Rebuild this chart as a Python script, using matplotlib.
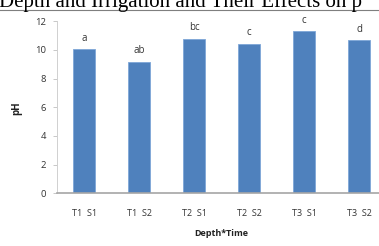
import matplotlib
matplotlib.use("Agg")
import matplotlib.pyplot as plt
from matplotlib.lines import Line2D

categories = ["T1  S1", "T1  S2", "T2  S1", "T2  S2", "T3  S1", "T3  S2"]
values = [10.05, 9.16, 10.79, 10.44, 11.30, 10.67]
letters = ["a", "ab", "bc", "c", "c", "d"]
yticks = [0, 2, 4, 6, 8, 10, 12]

W, H = 379, 246
fig = plt.figure(figsize=(W / 100, H / 100), dpi=100)
fig.patch.set_facecolor("white")

# axes placement in pixels
x0, x1 = 57, 386.5
y0, y1 = 193.3, 21.3
ax = fig.add_axes([x0 / W, 1 - y0 / H, (x1 - x0) / W, (y0 - y1) / H])

xs = list(range(len(categories)))
ax.bar(xs, values, width=0.4, color="#4F81BD", edgecolor="#7EA6D8", linewidth=0.6, zorder=2)
for x, v, l in zip(xs, values, letters):
    ax.text(x, v + 0.4, l, ha="center", va="bottom", fontsize=7,
            family="Open Sans", color="#333333")

ax.set_xlim(-0.5, len(categories) - 0.5)
ax.set_ylim(0, 12)
ax.set_yticks(yticks)
ax.set_xticks(xs)
ax.set_xticklabels(categories, family="Open Sans", fontsize=6.5, color="#333333")
ax.tick_params(axis="x", length=0, pad=11)
ax.tick_params(axis="y", length=3, width=0.6, color="#BFBFBF", pad=5,
               labelsize=6.8, labelcolor="#333333")
for lab in ax.get_yticklabels():
    lab.set_family("Open Sans")

for s in ["top", "right"]:
    ax.spines[s].set_visible(False)
ax.spines["left"].set_color("#D0D0D0")
ax.spines["left"].set_linewidth(0.7)
ax.spines["bottom"].set_color("#A6A6A6")
ax.spines["bottom"].set_linewidth(1.2)

fig.text(17 / W, 1 - 108 / H, "pH", rotation=90, ha="center", va="center",
         fontsize=7, fontweight="bold", family="Open Sans", color="#222222")
fig.text(221 / W, 1 - 233 / H, "Depth*Time", ha="center", va="center",
         fontsize=6.5, fontweight="bold", family="Open Sans", color="#222222")

# cropped title from the source page
fig.text(-0.002, 1 - 7.5 / H, "Depth and Irrigation and Their Effects on p",
         ha="left", va="baseline", fontsize=15, family="Liberation Serif", color="black")
fig.add_artist(Line2D([0, 1], [1 - 9.5 / H, 1 - 9.5 / H], transform=fig.transFigure,
                      color="#7F7F7F", linewidth=0.8))

fig.savefig("out.png", dpi=100, facecolor="white")
